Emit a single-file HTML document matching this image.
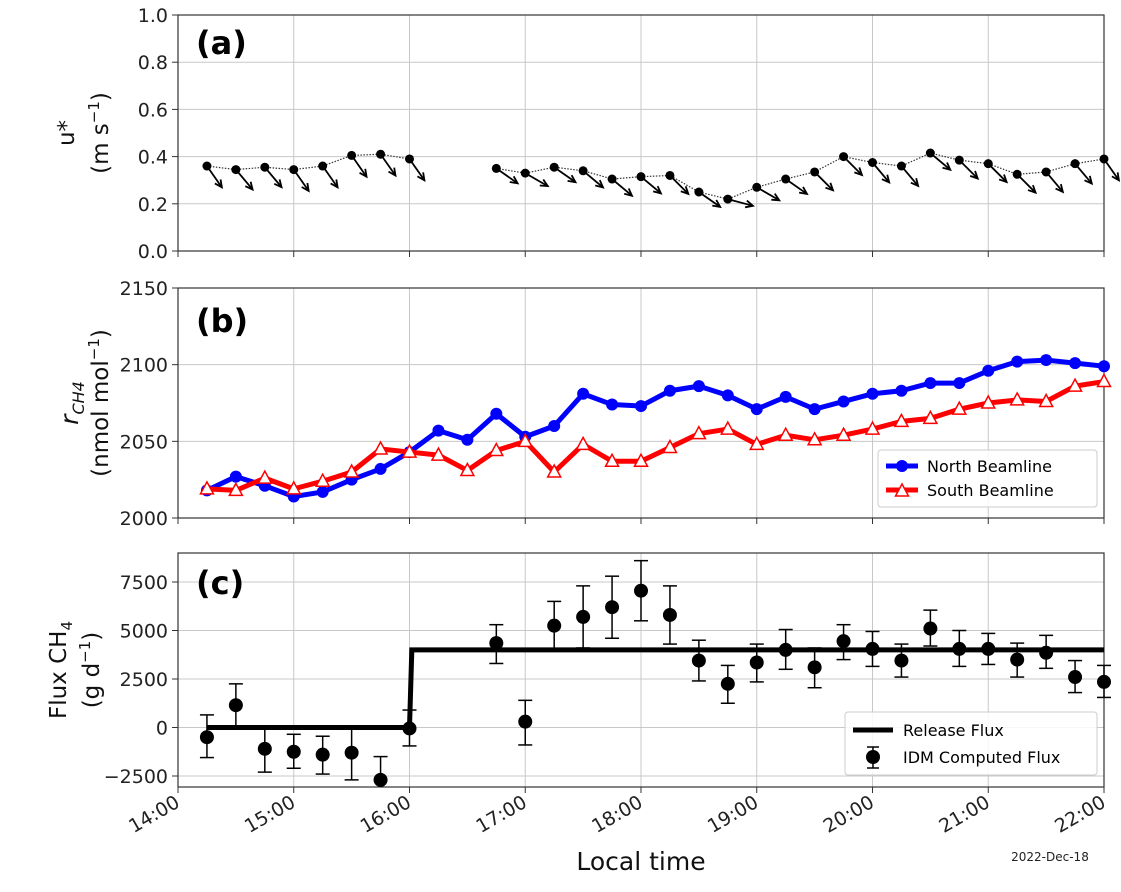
<!DOCTYPE html>
<html><head><meta charset="utf-8"><style>
body{margin:0;background:#fff}
svg{font-family:"DejaVu Sans","Liberation Sans",sans-serif}
</style></head><body>
<svg id="chart" width="1121" height="887" viewBox="0 0 1121 887" xmlns="http://www.w3.org/2000/svg"></svg>
<script>
const times = [];
for (let i = 1; i <= 32; i++) times.push(14 + i * 0.25);
const xTickLabels = ["14:00","15:00","16:00","17:00","18:00","19:00","20:00","21:00","22:00"];
const ustar = [0.36,0.345,0.355,0.345,0.36,0.405,0.41,0.39,null,null,0.35,0.33,0.355,0.34,0.305,0.315,0.32,0.25,0.22,0.27,0.305,0.335,0.40,0.375,0.36,0.415,0.385,0.37,0.325,0.335,0.37,0.39];
const windAngle = [-55,-50,-50,-55,-55,-55,-55,-55,null,null,-35,-30,-35,-40,-40,-40,-45,-35,-15,-30,-35,-45,-45,-50,-50,-40,-45,-45,-45,-50,-50,-55];
const north = [2018,2027,2021,2014,2017,2025,2032,2043,2057,2051,2068,2053,2060,2081,2074,2073,2083,2086,2080,2071,2079,2071,2076,2081,2083,2088,2088,2096,2102,2103,2101,2099];
const south = [2019,2018,2026,2019,2024,2030,2045,2043,2041,2031,2044,2050,2030,2048,2037,2037,2046,2055,2058,2048,2054,2051,2054,2058,2063,2065,2071,2075,2077,2076,2086,2089];
const flux = [-500,1150,-1100,-1250,-1400,-1300,-2700,-50,null,null,4350,300,5250,5700,6200,7050,5800,3450,2250,3350,4000,3100,4450,4050,3450,5100,4050,4050,3500,3850,2600,2350];
const fluxLo = [-1550,0,-2300,-2100,-2400,-2700,-3300,-950,null,null,3300,-900,4000,4100,4600,5500,4300,2400,1250,2350,3000,2050,3500,3150,2600,4200,3150,3250,2600,3050,1800,1550];
const fluxHi = [650,2250,0,-350,-450,0,-1500,900,null,null,5300,1400,6500,7300,7800,8600,7300,4500,3200,4300,5050,4100,5300,4950,4300,6050,5000,4850,4350,4750,3450,3200];
const releaseT = [14.25,16.0,16.02,22.0];
const releaseV = [0,0,4000,4000];
const ticksA = [0,0.2,0.4,0.6,0.8,1.0], ticksB = [2000,2050,2100,2150], ticksC = [-2500,0,2500,5000,7500];

const NS="http://www.w3.org/2000/svg", svg=document.getElementById('chart');
function el(tag,attrs,parent,text){const e=document.createElementNS(NS,tag);for(const k in attrs)e.setAttribute(k,attrs[k]);if(text!==undefined)e.textContent=text;(parent||svg).appendChild(e);return e;}
const X0=178,X1=1104;
const xs=t=>X0+(t-14)/8*(X1-X0);
function mk(y0v,y1v,top,bot){return v=>bot-(v-y0v)/(y1v-y0v)*(bot-top);}
const ya=mk(0,1,15,251), yb=mk(2000,2150,288,518), yc=mk(-2500,7500,582,776);

function panel(name,top,bot,ticks,ys,fmt){
  const g=el('g',{});
  
  for(let h=0;h<=8;h++){const x=xs(14+h);el('line',{x1:x,x2:x,y1:top,y2:bot,stroke:'#c8c8c8','stroke-width':1},g);el('line',{x1:x,x2:x,y1:bot,y2:bot+6,stroke:'#333'},g);}
  ticks.forEach(v=>{const y=ys(v);el('line',{x1:X0,x2:X1,y1:y,y2:y,stroke:'#c8c8c8'},g);el('line',{x1:X0-6,x2:X0,y1:y,y2:y,stroke:'#333'},g);
    const t=el('text',{x:X0-10,y:y+7,'text-anchor':'end','font-size':19,fill:'#222'},g,fmt(v));});
  el('rect',{x:X0,y:top,width:X1-X0,height:bot-top,fill:'none',stroke:'#333','stroke-width':1.2},g);
  return g;
}
panel('panel-a',15,251,ticksA,ya,v=>v.toFixed(1));
panel('panel-b',288,518,ticksB,yb,v=>String(v));
panel('panel-c',553,787,ticksC,yc,v=>v<0?'\u22122500':String(v));

[['(a)',54],['(b)',332],['(c)',594]].forEach(([s,y])=>{const t=el('text',{x:196,y:y,'font-size':32,'font-weight':'bold'},svg,s);});

function ylab(x,y,s,sz){const t=el('text',{x:0,y:0,'font-size':sz||23,'text-anchor':'middle',transform:`translate(${x},${y}) rotate(-90)`,fill:'#111'},svg);t.innerHTML=s;}
ylab(74,133,'u*');ylab(108,133,'(m s<tspan font-size="15" dy="-9">\u22121</tspan><tspan dy="9">)</tspan>');
ylab(78,403,'<tspan font-style="italic">r</tspan><tspan font-size="16" dy="6" font-style="italic">CH4</tspan>',25);ylab(108,403,'(nmol mol<tspan font-size="15" dy="-9">\u22121</tspan><tspan dy="9">)</tspan>');
ylab(66,670,'Flux CH<tspan font-size="15" dy="6">4</tspan>');ylab(99,670,'(g d<tspan font-size="15" dy="-9">\u22121</tspan><tspan dy="9">)</tspan>');

xTickLabels.forEach((s,i)=>{const x=xs(14+i);const t=el('text',{x:0,y:0,'text-anchor':'end','font-size':19,fill:'#222',transform:`translate(${x+3},${806}) rotate(-30)`},svg,s);});
let t=el('text',{x:641,y:870,'text-anchor':'middle','font-size':25,fill:'#111'},svg,'Local time');
t=el('text',{x:1050,y:861,'text-anchor':'middle','font-size':12,fill:'#222'},svg,'2022-Dec-18');

let seg=[];const segs=[];
ustar.forEach((v,i)=>{if(v==null){if(seg.length)segs.push(seg);seg=[];}else seg.push(xs(times[i])+','+ya(v));});if(seg.length)segs.push(seg);
segs.forEach(s=>{const p=el('polyline',{points:s.join(' '),fill:'none',stroke:'#333','stroke-width':1.2,'stroke-dasharray':'1.5,1.5'});});
ustar.forEach((v,i)=>{if(v==null)return;const x=xs(times[i]),y=ya(v);const a=windAngle[i]*Math.PI/180,L=26;
  const x2=x+L*Math.cos(a),y2=y-L*Math.sin(a);
  const ln=el('line',{x1:x,y1:y,x2:x2,y2:y2,stroke:'#000','stroke-width':1.8});
  const ang=Math.atan2(y2-y,x2-x),hl=8;
  el('polyline',{points:`${x2-hl*Math.cos(ang-0.45)},${y2-hl*Math.sin(ang-0.45)} ${x2},${y2} ${x2-hl*Math.cos(ang+0.45)},${y2-hl*Math.sin(ang+0.45)}`,fill:'none',stroke:'#000','stroke-width':1.8});
  const c=el('circle',{cx:x,cy:y,r:4.5,fill:'#000'});});

let p=el('polyline',{points:north.map((v,i)=>xs(times[i])+','+yb(v)).join(' '),fill:'none',stroke:'#00f','stroke-width':5,'stroke-linejoin':'round'});
north.forEach((v,i)=>{const c=el('circle',{cx:xs(times[i]),cy:yb(v),r:6,fill:'#00f'});});
p=el('polyline',{points:south.map((v,i)=>xs(times[i])+','+yb(v)).join(' '),fill:'none',stroke:'#f00','stroke-width':5,'stroke-linejoin':'round'});
function tri(x,y,g){return el('polygon',{points:`${x},${y-7} ${x-6.5},${y+5} ${x+6.5},${y+5}`,fill:'#fff',stroke:'#f00','stroke-width':1.5},g);}
south.forEach((v,i)=>{const m=tri(xs(times[i]),yb(v));});
let lg=el('g',{});
el('rect',{x:878,y:450,width:219,height:57,rx:3,fill:'#fff','fill-opacity':0.85,stroke:'#ccc'},lg);
el('line',{x1:886,x2:918,y1:466,y2:466,stroke:'#00f','stroke-width':5},lg);el('circle',{cx:902,cy:466,r:6,fill:'#00f'},lg);
el('text',{x:927,y:472,'font-size':16},lg,'North Beamline');
el('line',{x1:886,x2:918,y1:490,y2:490,stroke:'#f00','stroke-width':5},lg);tri(902,491,lg);
el('text',{x:927,y:496,'font-size':16},lg,'South Beamline');

p=el('polyline',{points:releaseT.map((v,i)=>xs(v)+','+yc(releaseV[i])).join(' '),fill:'none',stroke:'#000','stroke-width':5});
flux.forEach((v,i)=>{if(v==null)return;const x=xs(times[i]);const g=el('g',{});
  const lo=yc(fluxLo[i]),hi=yc(fluxHi[i]);
  el('line',{x1:x,x2:x,y1:Math.min(lo,787),y2:hi,stroke:'#000','stroke-width':1.5},g);
  el('line',{x1:x-7,x2:x+7,y1:hi,y2:hi,stroke:'#000','stroke-width':1.5},g);
  if(lo<787)el('line',{x1:x-7,x2:x+7,y1:lo,y2:lo,stroke:'#000','stroke-width':1.5},g);
  el('circle',{cx:x,cy:yc(v),r:7,fill:'#000'},g);});
lg=el('g',{});
el('rect',{x:845,y:712,width:252,height:63,rx:3,fill:'#fff','fill-opacity':0.85,stroke:'#ccc'},lg);
el('line',{x1:853,x2:893,y1:730,y2:730,stroke:'#000','stroke-width':5},lg);
el('text',{x:903,y:736,'font-size':16},lg,'Release Flux');
el('line',{x1:873,x2:873,y1:747,y2:768,stroke:'#000','stroke-width':1.5},lg);
el('line',{x1:867,x2:879,y1:747,y2:747,stroke:'#000','stroke-width':1.5},lg);el('line',{x1:867,x2:879,y1:768,y2:768,stroke:'#000','stroke-width':1.5},lg);
el('circle',{cx:873,cy:757,r:7,fill:'#000'},lg);
el('text',{x:903,y:763,'font-size':16},lg,'IDM Computed Flux');
</script>
</body></html>
